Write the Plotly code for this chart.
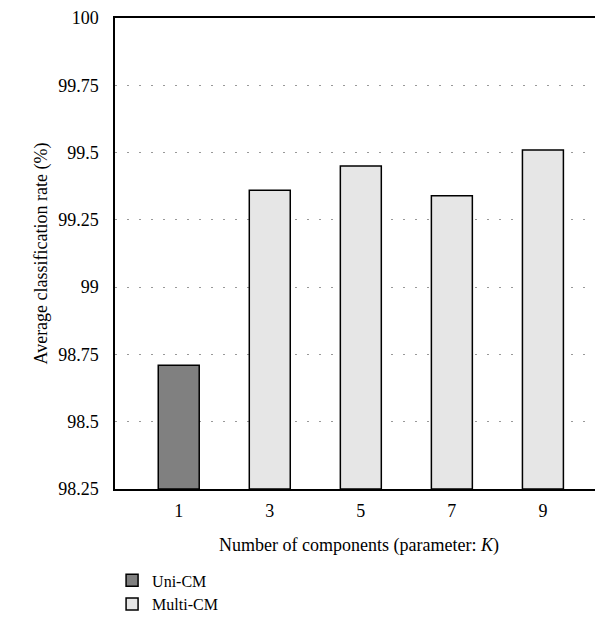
import plotly.graph_objects as go

components = [1, 3, 5, 7, 9]
uni_x = [1]
uni_vals = [98.71]
multi_x = [3, 5, 7, 9]
multi_vals = [99.36, 99.45, 99.34, 99.51]
y_ticks = [98.25, 98.5, 98.75, 99, 99.25, 99.5, 99.75, 100]
y_ticktext = ["98.25", "98.5", "98.75", "99", "99.25", "99.5", "99.75", "100"]

FONT = "Liberation Serif"
FS = 18

fig = go.Figure()
fig.add_trace(go.Bar(
    x=uni_x, y=[v - 98.25 for v in uni_vals], base=98.25, name="Uni-CM",
    width=0.9, marker=dict(color="#808080", line=dict(color="black", width=1.5)),
))
fig.add_trace(go.Bar(
    x=multi_x, y=[v - 98.25 for v in multi_vals], base=98.25, name="Multi-CM",
    width=0.9, marker=dict(color="#e6e6e6", line=dict(color="black", width=1.5)),
))

fig.update_layout(
    width=595, height=613,
    margin=dict(l=107, r=0, t=7, b=132),
    paper_bgcolor="white", plot_bgcolor="white",
    font=dict(family=FONT, size=FS, color="black"),
    barmode="overlay",
    showlegend=True,
    legend=dict(x=-0.006, xanchor="left", yref="container", y=0.094, yanchor="top",
                font=dict(family=FONT, size=16), tracegroupgap=0,
                itemwidth=30, bgcolor="rgba(0,0,0,0)"),
    xaxis=dict(
        range=[-0.4, 10.32], tickmode="array", tickvals=components,
        ticktext=[str(c) for c in components],
        showgrid=False, zeroline=False,
        showline=True, linecolor="black", linewidth=1.5, mirror=True,
        ticks="", ticklabelstandoff=5,
        title=dict(text="Number of components (parameter: <i>K</i>)", standoff=18,
                   font=dict(family=FONT, size=FS)),
    ),
    yaxis=dict(
        range=[98.25, 100], tickmode="array", tickvals=y_ticks, ticktext=y_ticktext,
        showgrid=True, gridcolor="#999999", gridwidth=1, griddash="2px,10px",
        zeroline=False, showline=True, linecolor="black", linewidth=1.5,
        ticks="", ticklabelstandoff=11, ticklabeloverflow="allow",
        title=dict(text="Average classification rate (%)", standoff=6,
                   font=dict(family=FONT, size=FS)),
    ),
)

fig.write_html("out.html")
